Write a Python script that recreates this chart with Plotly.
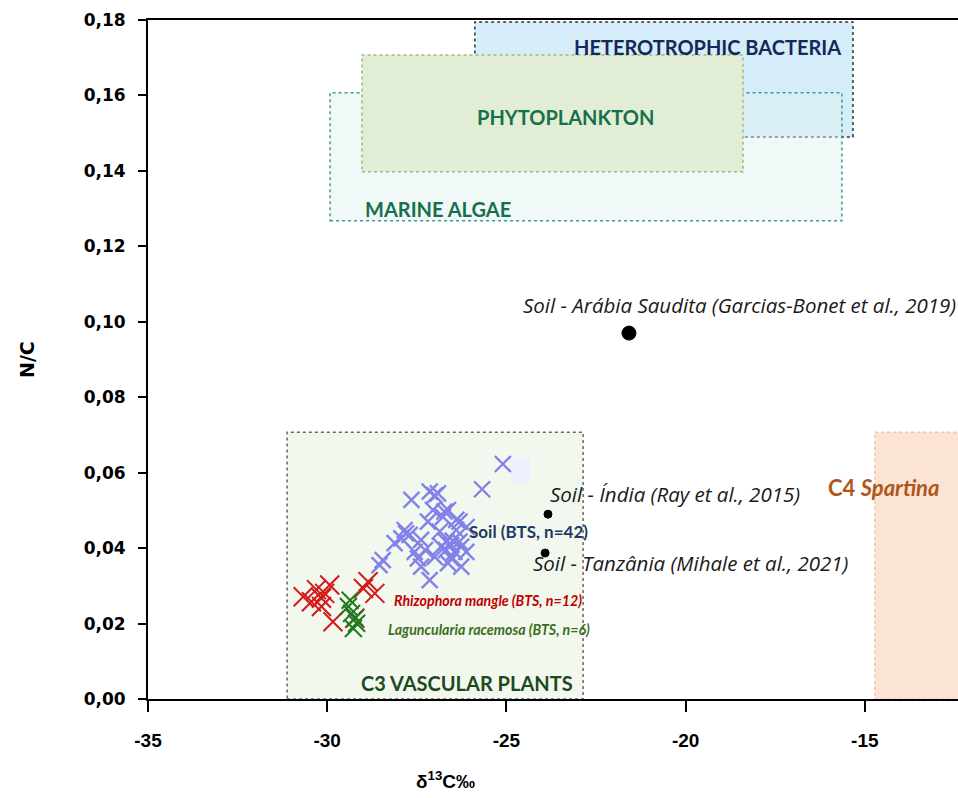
import plotly.graph_objects as go

# ---------------- data ----------------
soil_bts_d13c = [-25.10, -25.68, -27.65, -27.14, -26.91, -27.00, -27.05, -26.63, -26.77, -26.40,
                 -27.19, -26.11, -26.40, -26.86, -27.84, -27.70, -27.93, -28.12, -27.38, -26.68,
                 -26.54, -26.82, -26.26, -26.45, -26.68, -27.27, -27.56, -27.47, -27.00, -26.54,
                 -26.26, -27.38, -28.45, -26.63, -27.14, -28.54, -27.80, -26.73, -26.31, -26.31,
                 -26.12, -26.50]
soil_bts_nc = [0.0623, 0.0556, 0.0528, 0.0550, 0.0545, 0.0540, 0.0501, 0.0501, 0.0483, 0.0475,
               0.0470, 0.0456, 0.0448, 0.0444, 0.0448, 0.0435, 0.0426, 0.0413, 0.0422, 0.0417,
               0.0408, 0.0404, 0.0404, 0.0390, 0.0395, 0.0395, 0.0390, 0.0373, 0.0377, 0.0373,
               0.0351, 0.0351, 0.0368, 0.0360, 0.0315, 0.0355, 0.0439, 0.0497, 0.0470, 0.0417,
               0.0390, 0.0420]

rhizophora_d13c = [-30.67, -30.44, -30.16, -29.93, -30.07, -30.16, -29.84, -28.86, -28.67, -28.99,
                   -29.23, -30.30]
rhizophora_nc = [0.0271, 0.0258, 0.0267, 0.0302, 0.0280, 0.0245, 0.0205, 0.0311, 0.0280, 0.0293,
                 0.0214, 0.0290]

laguncularia_d13c = [-29.41, -29.32, -29.22, -29.36, -29.18, -29.27]
laguncularia_nc = [0.0245, 0.0227, 0.0214, 0.0262, 0.0201, 0.0187]

lit_names = ["Soil - Arábia Saudita (Garcias-Bonet et al., 2019)",
             "Soil - Índia (Ray et al., 2015)",
             "Soil - Tanzânia (Mihale et al., 2021)"]
lit_d13c = [-21.58, -23.84, -23.92]
lit_nc = [0.097, 0.049, 0.0387]
lit_sizes = [14, 8, 8]

# source boxes: name, x0, x1, y0, y1
box_names = ["HETEROTROPHIC BACTERIA", "MARINE ALGAE", "PHYTOPLANKTON", "C3 VASCULAR PLANTS", "C4 Spartina"]
box_x0 = [-25.88, -29.92, -29.03, -31.12, -14.72]
box_x1 = [-15.33, -15.64, -18.40, -22.86, -5.00]
box_y0 = [0.149, 0.1268, 0.1398, 0.0, 0.0]
box_y1 = [0.1795, 0.1607, 0.1707, 0.0707, 0.0707]

x_ticks = [-35, -30, -25, -20, -15]
x_ticklabels = ["-35", "-30", "-25", "-20", "-15"]
y_ticks = [0.00, 0.02, 0.04, 0.06, 0.08, 0.10, 0.12, 0.14, 0.16, 0.18]
y_ticklabels = ["0,00", "0,02", "0,04", "0,06", "0,08", "0,10", "0,12", "0,14", "0,16", "0,18"]

x_title = "δ<sup>13</sup>C‰"
y_title = "N/C"

# ---------------- styling ----------------
box_fill = ["#d5edf8", "rgba(225,242,240,0.45)", "#e2edd6", "#f2f8ee", "#fbe4d5"]
box_line = ["#333333", "#3d9c98", "#9bbb7a", "#666666", "#f2c4a6"]

fig = go.Figure()

for i in range(len(box_names)):
    fig.add_shape(type="rect", xref="x", yref="y",
                  x0=box_x0[i], x1=box_x1[i], y0=box_y0[i], y1=box_y1[i],
                  fillcolor=box_fill[i],
                  line=dict(color=box_line[i], width=1.5, dash="dot"),
                  layer="below")

# faint square near the soil cluster
fig.add_shape(type="rect", xref="x", yref="y", x0=-24.90, x1=-24.34, y0=0.0573, y1=0.0639,
              fillcolor="#eef1fb", line=dict(width=0), layer="below")

fig.add_trace(go.Scatter(x=rhizophora_d13c, y=rhizophora_nc, mode="markers",
                         marker=dict(symbol="x-thin", size=19, line=dict(width=2, color="#d21a1a")),
                         name="Rhizophora mangle", showlegend=False))
fig.add_trace(go.Scatter(x=laguncularia_d13c, y=laguncularia_nc, mode="markers",
                         marker=dict(symbol="x-thin", size=17, line=dict(width=2, color="#1f7a1f")),
                         name="Laguncularia racemosa", showlegend=False))
fig.add_trace(go.Scatter(x=soil_bts_d13c, y=soil_bts_nc, mode="markers",
                         marker=dict(symbol="x-thin", size=16, line=dict(width=2.4, color="#8282ea")),
                         name="Soil (BTS)", showlegend=False))
fig.add_trace(go.Scatter(x=lit_d13c, y=lit_nc, mode="markers",
                         marker=dict(symbol="circle", size=lit_sizes, color="#000000", opacity=1,
                                     line=dict(width=1, color="#000000")),
                         text=lit_names, showlegend=False))

# annotations
def ann(x, y, text, color, size, xanchor="left", bold=False, italic=False, family="Lato"):
    fig.add_annotation(x=x, y=y, xref="x", yref="y", text=text, showarrow=False,
                       xanchor=xanchor, yanchor="middle",
                       font=dict(family=family, size=size, color=color,
                                 weight="bold" if bold else "normal",
                                 style="italic" if italic else "normal"))

ann(-15.61, 0.1729, box_names[0], "#16285a", 20, xanchor="right", bold=True)
ann(-23.36, 0.1543, box_names[2], "#17704c", 20, xanchor="center", bold=True)
ann(-29.00, 0.1299, box_names[1], "#17704c", 20, xanchor="left", bold=True)
ann(-26.10, 0.0042, box_names[3], "#1d4a1d", 20, xanchor="center", bold=True)
ann(-12.85, 0.0562, "C4 <i>Spartina</i>", "#b0561a", 22, xanchor="right", bold=True)

ann(-24.59, 0.1045, lit_names[0], "#1a1a1a", 20.5, italic=True, family="Open Sans")
ann(-23.84, 0.0543, lit_names[1], "#1a1a1a", 20.5, italic=True, family="Open Sans")
ann(-24.31, 0.0361, lit_names[2], "#1a1a1a", 20.5, italic=True, family="Open Sans")

ann(-26.10, 0.0443, "Soil (BTS, n=42)", "#1f3864", 17, bold=True)
ann(-28.19, 0.0262, "Rhizophora mangle (BTS, n=12)", "#c00000", 14.2, bold=True, italic=True)
ann(-28.36, 0.0183, "Laguncularia racemosa (BTS, n=6)", "#3b6e1c", 14.2, bold=True, italic=True)

# axis titles
fig.add_annotation(x=0.367, y=-0.119, xref="paper", yref="paper", text=x_title, showarrow=False,
                   xanchor="center", yanchor="middle",
                   font=dict(family="Liberation Sans, Arial", size=19, color="black", weight="bold"))
fig.add_annotation(x=-0.150, y=0.50, xref="paper", yref="paper", text=y_title, showarrow=False,
                   textangle=-90, xanchor="center", yanchor="middle",
                   font=dict(family="DejaVu Sans", size=19, color="black", weight="bold"))

fig.update_layout(
    width=958, height=798,
    margin=dict(l=148, r=0, t=20, b=99, autoexpand=False),
    plot_bgcolor="white", paper_bgcolor="white",
    showlegend=False,
    xaxis=dict(range=[-35, -12.40], tickvals=x_ticks, ticktext=x_ticklabels, automargin=False,
               showgrid=False, zeroline=False, showline=True, linecolor="black", linewidth=2,
               mirror=True, ticks="outside", ticklen=11, tickwidth=1.5, tickcolor="black",
               ticklabelstandoff=12,
               tickfont=dict(family="Liberation Sans, Arial", size=19, color="black", weight="bold")),
    yaxis=dict(range=[0, 0.18], tickvals=y_ticks, ticktext=y_ticklabels, automargin=False,
               showgrid=False, zeroline=False, showline=True, linecolor="black", linewidth=2,
               ticks="outside", ticklen=8, tickwidth=1.5, tickcolor="black",
               ticklabelstandoff=9,
               tickfont=dict(family="DejaVu Sans", size=17, color="black", weight="bold")),
)

fig.write_html("out.html", config={"displayModeBar": False},
               post_script="document.body.style.margin='0';document.body.style.overflow='hidden';")
